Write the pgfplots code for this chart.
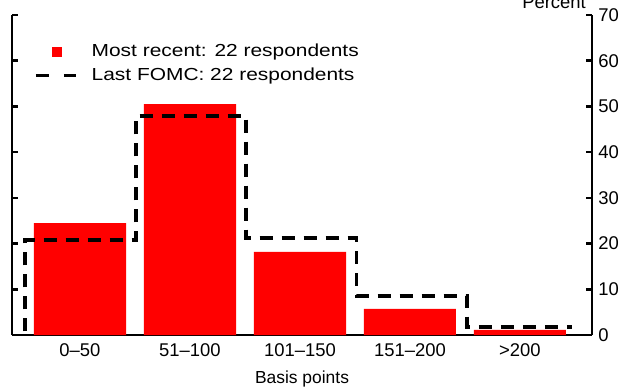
\documentclass[border=0pt]{standalone}
\usepackage{fontspec}
\setmainfont{Liberation Sans}
\usepackage{pgfplots}
\pgfplotsset{compat=1.18}
\begin{document}
\fontsize{18.5}{22}\selectfont
\begin{tikzpicture}
\useasboundingbox (-12bp,-55bp) rectangle (629bp,335bp);
\begin{axis}[
  at={(0,0)}, anchor=south west,
  scale only axis, width=580bp, height=320bp,
  xmin=-0.618, xmax=4.655, ymin=0, ymax=70,
  clip=false,
  axis x line*=bottom,
  separate axis lines,
  axis line style={line width=2.5bp, black},
  ytick={0,10,...,70},
  yticklabel pos=right,
  ytick pos=both,
  tick align=inside,
  major tick length=6bp,
  tick style={line width=2.5bp, black},
  xtick={0,1,2,3,4},
  xticklabels={0--50,51--100,101--150,151--200,>200},
  major x tick style={draw=none},
  /pgf/number format/assume math mode=true,
  ticklabel style={font=\fontsize{18.5}{22}\selectfont},
  xticklabel style={yshift=-2bp},
  xlabel={Basis points},
  xlabel style={yshift=-2bp},
  label style={font=\fontsize{17.5}{21}\selectfont},
  legend cell align=left,
  legend style={draw=none, fill=none, at={(19bp,295bp)}, anchor=north west,
    column sep=12bp, row sep=4bp, font=\fontsize{17.5}{21}\selectfont},
]
\addplot[ybar, fill=red, draw=none, bar width=0.837,
  legend image code/.code={\path[draw=none,fill=none] (0bp,0bp) -- (40bp,0bp); \fill[red, draw=none] (16bp,-5bp) rectangle (26bp,5bp);}]
  coordinates {(0,24.5) (1,50.5) (2,18.2) (3,5.7) (4,1.1)};
\addlegendentry{\scalebox{1.2}[1]{Most recent: 22 respondents}}
\addplot[const plot, black, line width=3.5bp, dash pattern=on 13bp off 9bp,
  legend image code/.code={\draw[black, line width=3.5bp, dash pattern=on 13bp off 15bp] (0bp,0bp) -- (40bp,0bp);}]
  coordinates {(-0.5,0.8) (-0.5,20.8) (0.51,47.9) (1.51,21.2) (2.515,8.5) (3.52,1.8) (4.47,1.8)};
\addlegendentry{\scalebox{1.2}[1]{Last FOMC: 22 respondents}}
\node[anchor=base east, inner sep=0pt, font=\fontsize{18.5}{22}\selectfont] at (rel axis cs:1,1) [xshift=-6bp, yshift=7bp] {Percent};
\end{axis}
\end{tikzpicture}
\end{document}
